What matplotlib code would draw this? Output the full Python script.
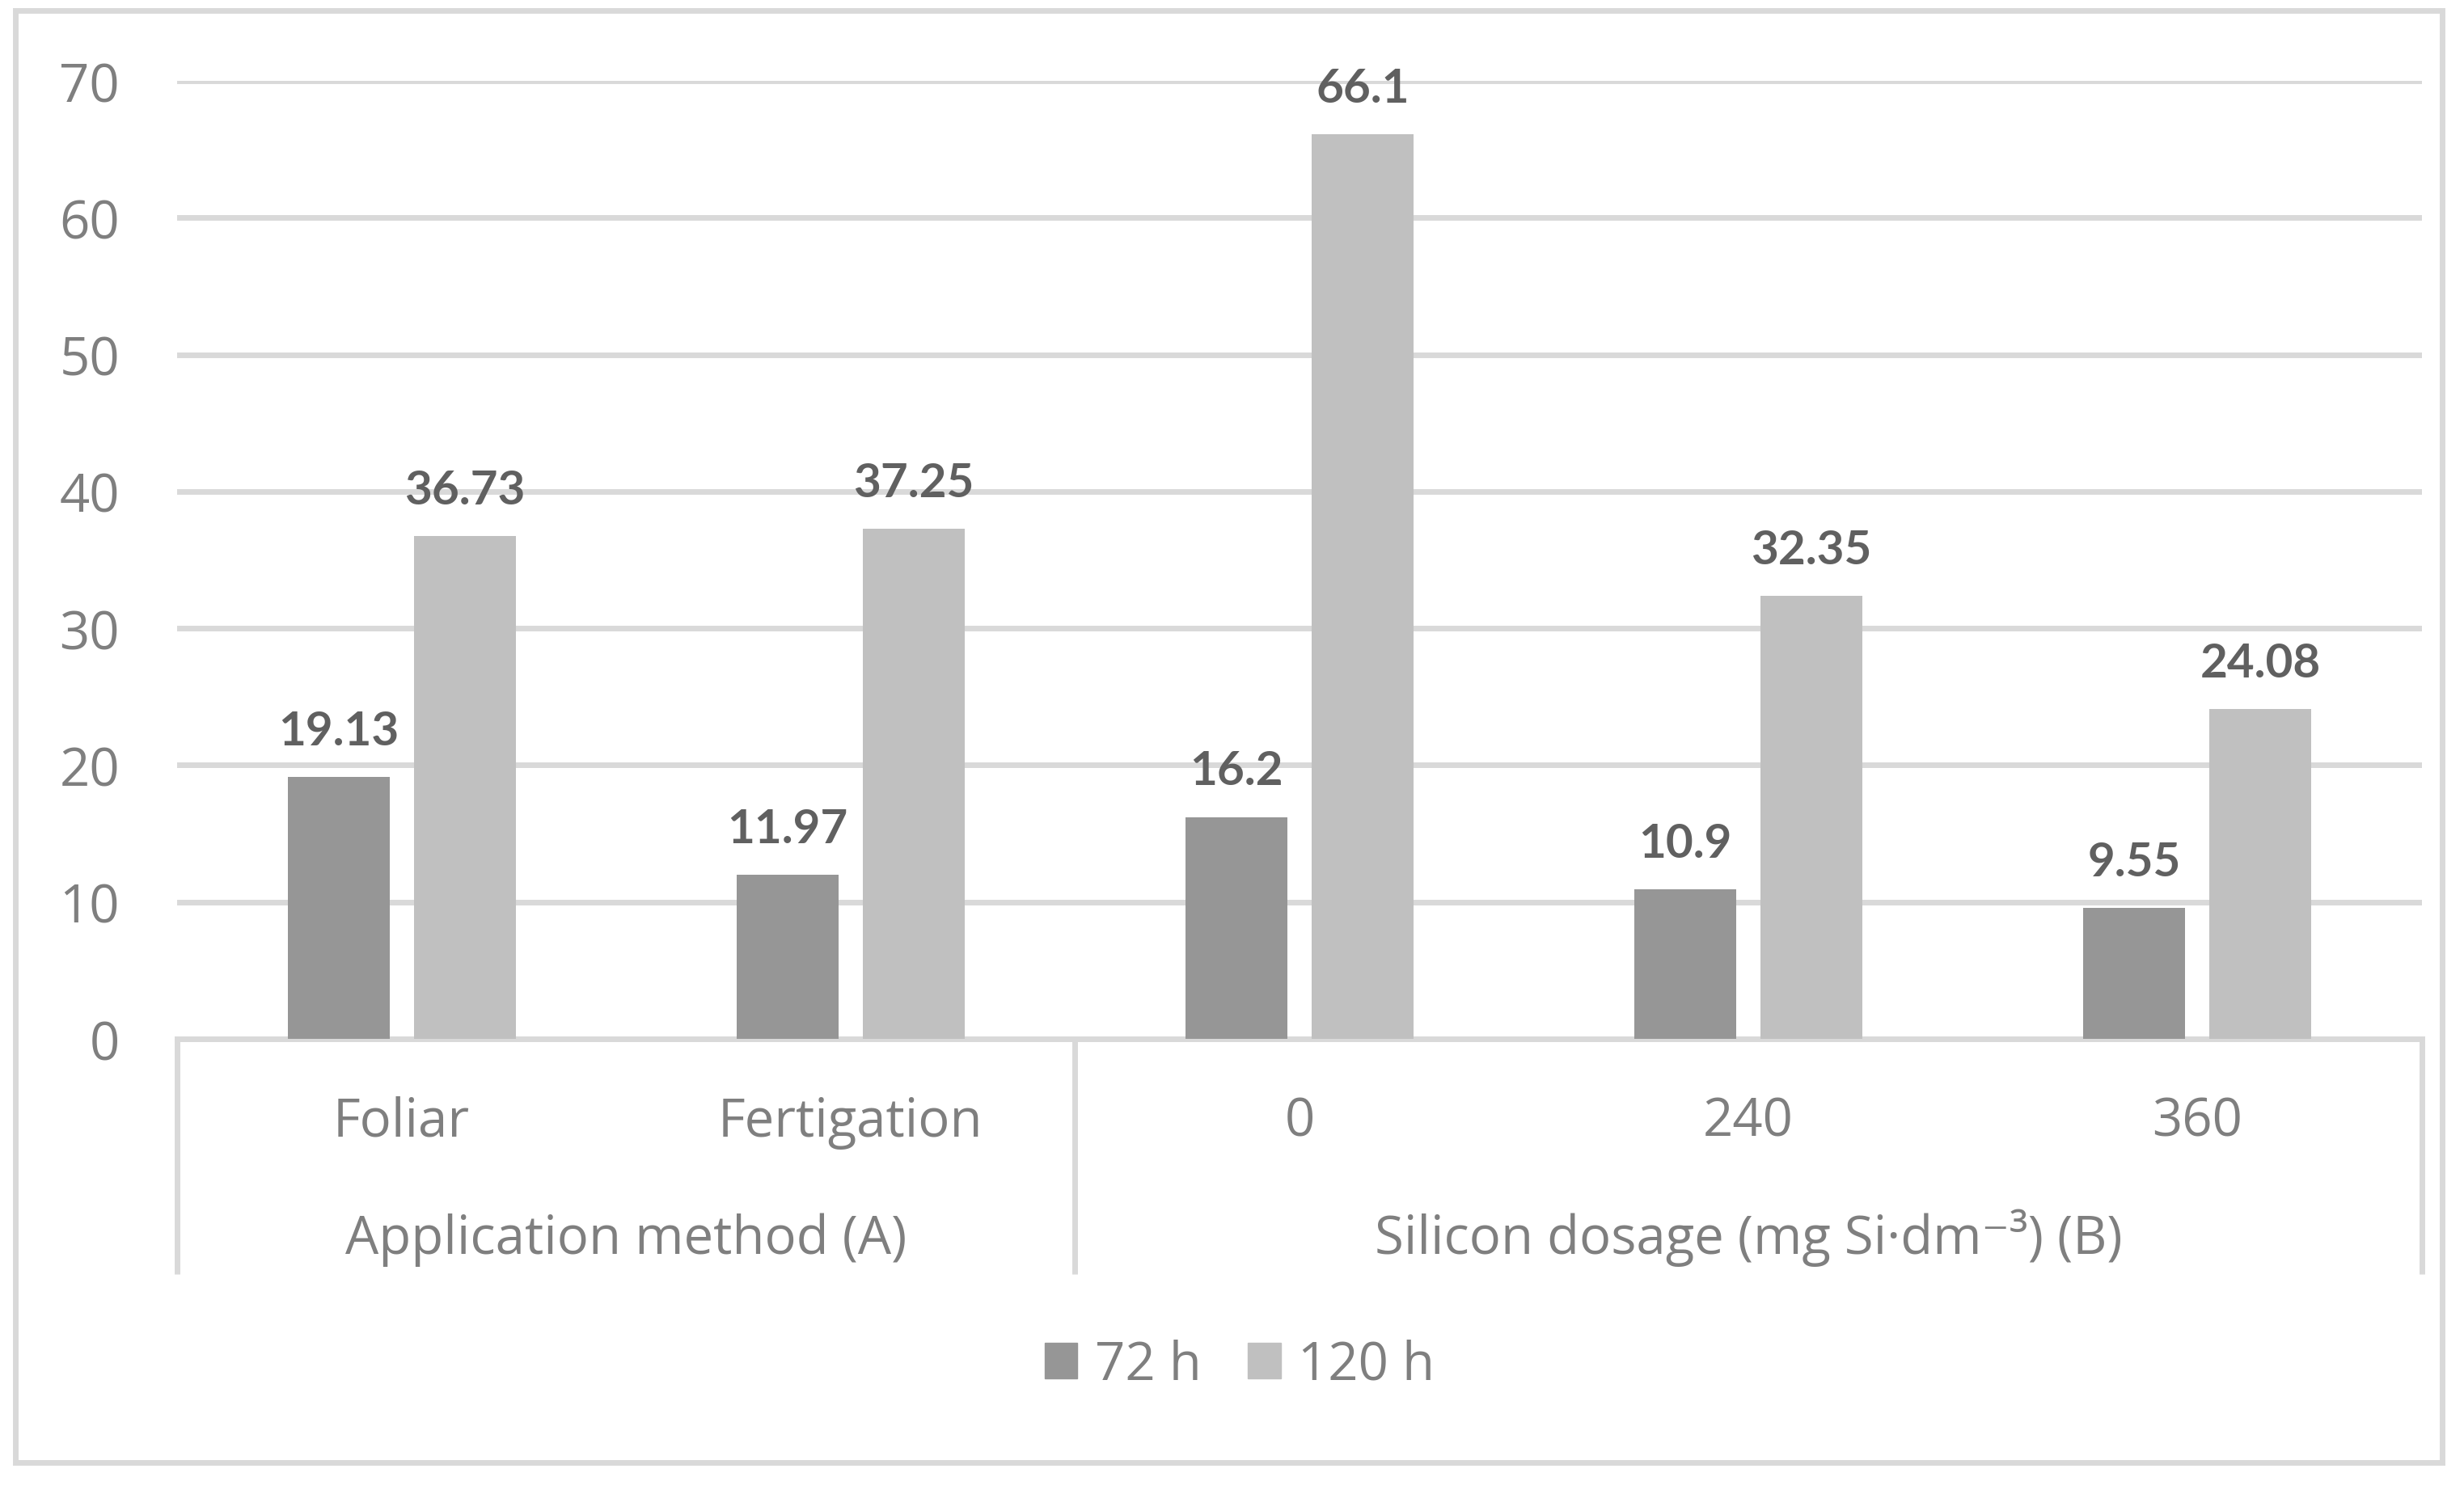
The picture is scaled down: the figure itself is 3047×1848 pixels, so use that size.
import numpy as np
import matplotlib
matplotlib.use("Agg")
import matplotlib.pyplot as plt
from matplotlib.patches import Rectangle, Patch

plt.rcParams['font.family'] = ['Open Sans', 'DejaVu Sans']

# data
categories = ['Foliar', 'Fertigation', '0', '240', '360']
groups = ['Application method (A)', 'Silicon dosage (mg Si\u00b7dm\u207b\u00b3) (B)']
group_sizes = [2, 3]
series_names = ['72 h', '120 h']
vals_72h = [19.13, 11.97, 16.2, 10.9, 9.55]
vals_120h = [36.73, 37.25, 66.1, 32.35, 24.08]
label_72h = ['19.13', '11.97', '16.2', '10.9', '9.55']
label_120h = ['36.73', '37.25', '66.1', '32.35', '24.08']
yticks = [0, 10, 20, 30, 40, 50, 60, 70]

c72 = '#969696'
c120 = '#c0c0c0'
line_c = '#d9d9d9'
txt_c = '#7f7f7f'
val_c = '#606060'
fs = 47

W, H = 3047, 1849
fig = plt.figure(figsize=(W / 100, H / 100), dpi=100)
ax = fig.add_axes([219 / W, 1 - 1286 / H, 2776 / W, 1185 / H])

x = np.arange(len(categories)) + 0.5
bw = 0.227
off = 0.1405
b1 = ax.bar(x - off, vals_72h, bw, color=c72, zorder=3)
b2 = ax.bar(x + off, vals_120h, bw, color=c120, zorder=3)

for rects, labs in [(b1, label_72h), (b2, label_120h)]:
    for r, lab in zip(rects, labs):
        ax.annotate(lab, (r.get_x() + r.get_width() / 2, r.get_height()),
                    xytext=(0, 29), textcoords='offset points',
                    ha='center', va='baseline', fontsize=42,
                    fontweight='bold', color=val_c, clip_on=False,
                    family=['Lato', 'DejaVu Sans'])

ax.set_xlim(0, len(categories))
ax.set_ylim(0, 70)
ax.set_yticks(yticks)
ax.set_yticklabels([str(t) for t in yticks])
ax.tick_params(axis='y', length=0, pad=51, labelsize=fs, labelcolor=txt_c)
ax.set_xticks([])
ax.grid(axis='y', color=line_c, linewidth=5, zorder=0)
ax.set_axisbelow(True)
for s in ['top', 'right', 'left']:
    ax.spines[s].set_visible(False)
ax.spines['bottom'].set_color(line_c)
ax.spines['bottom'].set_linewidth(5)

# multi-level category axis
tr = ax.get_xaxis_transform()
box_bottom = (1286 - 1577) / 1185
edges = [0] + list(np.cumsum(group_sizes))
for e in edges:
    ax.plot([e, e], [0, box_bottom], color=line_c, lw=5, transform=tr,
            clip_on=False, solid_capstyle='butt')
for xi, cat in zip(x, categories):
    ax.text(xi, (1286 - 1406) / 1185, cat, transform=tr, ha='center',
            va='baseline', fontsize=fs, color=txt_c)
for i, g in enumerate(groups):
    gx = (edges[i] + edges[i + 1]) / 2
    ax.text(gx, (1286 - 1551) / 1185, g, transform=tr, ha='center',
            va='baseline', fontsize=fs, color=txt_c)

# legend
handles = [Patch(color=c72), Patch(color=c120)]
fig.legend(handles, series_names, loc='center', ncol=2,
           bbox_to_anchor=(1533 / W, 1 - 1690 / H), frameon=False,
           fontsize=fs, labelcolor=txt_c, handlelength=0.62,
           handleheight=0.64, handletextpad=0.33, columnspacing=0.88)

# outer chart frame
fig.patches.append(Rectangle((19 / W, 1 - 1810 / H), (3020 - 19) / W,
                             (1810 - 14) / H, transform=fig.transFigure,
                             fill=False, edgecolor=line_c, linewidth=5))

fig.savefig('out.png', dpi=100)
